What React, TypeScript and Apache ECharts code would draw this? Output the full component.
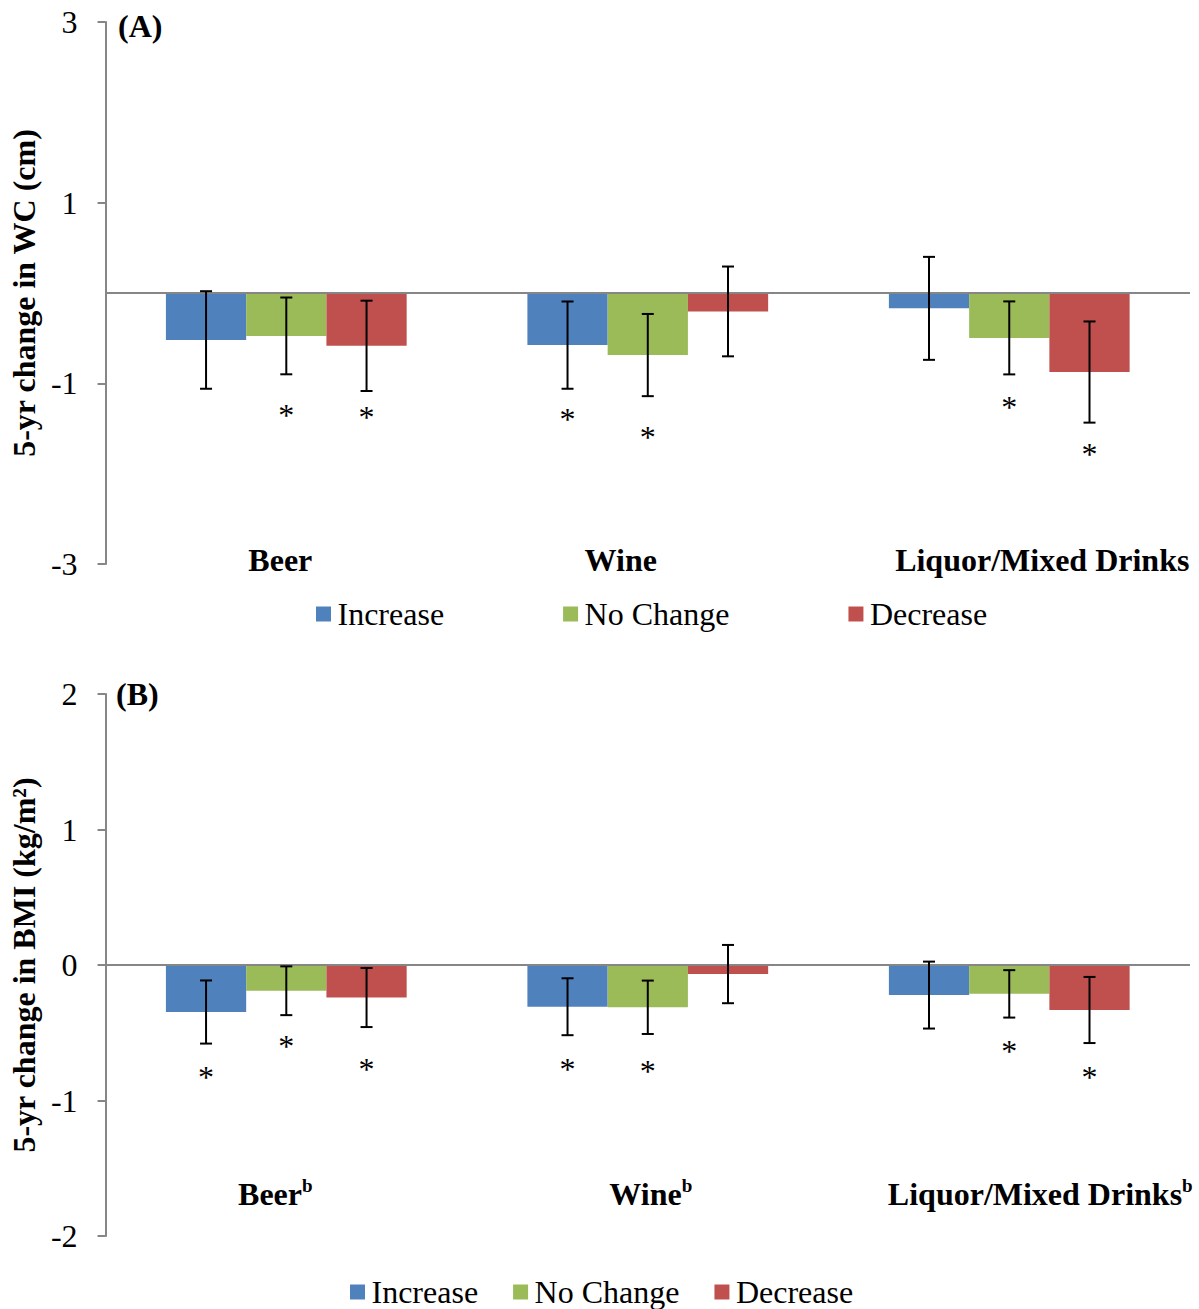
import React, { useEffect, useRef } from "react";
import * as echarts from "echarts";

// ---------- data ----------
const categories = ["Beer", "Wine", "Liquor/Mixed Drinks"];
const seriesNames = ["Increase", "No Change", "Decrease"];
const colors = ["#4F81BD", "#9BBB59", "#C0504D"];

// Panel A: 5-yr change in WC (cm)
const wcIncrease = [-0.52, -0.577, -0.17];
const wcNoChange = [-0.475, -0.687, -0.497];
const wcDecrease = [-0.585, -0.204, -0.875];
const wcErrIncrease = [0.54, 0.483, 0.57];
const wcErrNoChange = [0.425, 0.455, 0.404];
const wcErrDecrease = [0.5, 0.497, 0.56];
// asterisks: [category, bar (0 inc / 1 no change / 2 dec), y]
const wcStars = [
  [0, 1, -1.31],
  [0, 2, -1.33],
  [1, 0, -1.347],
  [1, 1, -1.55],
  [2, 1, -1.218],
  [2, 2, -1.742],
];
const wcTicks = [-3, -1, 1, 3];

// Panel B: 5-yr change in BMI (kg/m2)
const bmiIncrease = [-0.347, -0.308, -0.222];
const bmiNoChange = [-0.19, -0.312, -0.213];
const bmiDecrease = [-0.24, -0.067, -0.332];
const bmiErrIncrease = [0.233, 0.21, 0.247];
const bmiErrNoChange = [0.18, 0.197, 0.175];
const bmiErrDecrease = [0.218, 0.215, 0.244];
const bmiStars = [
  [0, 0, -0.8],
  [0, 1, -0.57],
  [0, 2, -0.735],
  [1, 0, -0.735],
  [1, 1, -0.753],
  [2, 1, -0.605],
  [2, 2, -0.797],
];
const bmiTicks = [-2, -1, 0, 1, 2];

// ---------- style ----------
const FONT = "'Liberation Serif', 'Times New Roman', serif";
const AXIS_GRAY = "#868686";
const GAP_RATIO = 0.334;
const labelShiftA = [-6, -27, 33];
const labelShiftB = [-11, 3, 31];

function padFor(s: number, side: "left" | "right") {
  if (s < 0 && side === "right") return [0, -2 * s, 0, 0];
  if (s > 0 && side === "left") return [0, 0, 0, 2 * s];
  return [0, 0, 0, 0];
}

function buildPanel(
  idx: number,
  means: number[][],
  errs: number[][],
  stars: number[][]
) {
  const series: any[] = [];
  means.forEach((m, k) => {
    series.push({
      type: "bar",
      name: seriesNames[k],
      xAxisIndex: idx,
      yAxisIndex: idx,
      data: m,
      barGap: "0%",
      barCategoryGap: GAP_RATIO * 100 + "%",
      itemStyle: { color: colors[k] },
      markLine:
        k === 0
          ? {
              silent: true,
              symbol: "none",
              label: { show: false },
              lineStyle: { color: AXIS_GRAY, width: 2, type: "solid" },
              data: [{ yAxis: 0 }],
              z: 4,
            }
          : undefined,
    });
  });
  means.forEach((m, k) => {
    series.push({
      type: "custom",
      name: "err" + idx + "_" + k,
      xAxisIndex: idx,
      yAxisIndex: idx,
      z: 5,
      encode: { x: 0, y: [1, 2] },
      data: m.map((v, c) => [c, v - errs[k][c], v + errs[k][c]]),
      renderItem: (params: any, api: any) => {
        const c = api.value(0);
        const lo = api.coord([c, api.value(1)]);
        const hi = api.coord([c, api.value(2)]);
        const band = api.size([1, 0])[0];
        const barW = (band * (1 - GAP_RATIO)) / 3;
        const x = lo[0] + (k - 1) * barW;
        const cap = 6;
        const st = { stroke: "#000", lineWidth: 2 };
        return {
          type: "group",
          children: [
            { type: "line", shape: { x1: x, y1: lo[1], x2: x, y2: hi[1] }, style: st },
            { type: "line", shape: { x1: x - cap, y1: lo[1], x2: x + cap, y2: lo[1] }, style: st },
            { type: "line", shape: { x1: x - cap, y1: hi[1], x2: x + cap, y2: hi[1] }, style: st },
          ],
        };
      },
    });
  });
  series.push({
    type: "custom",
    name: "stars" + idx,
    xAxisIndex: idx,
    yAxisIndex: idx,
    z: 5,
    encode: { x: 0, y: 2 },
    data: stars,
    renderItem: (params: any, api: any) => {
      const c = api.value(0);
      const k = api.value(1);
      const p = api.coord([c, api.value(2)]);
      const band = api.size([1, 0])[0];
      const barW = (band * (1 - GAP_RATIO)) / 3;
      return {
        type: "text",
        x: p[0] + (k - 1) * barW,
        y: p[1] + 4,
        style: {
          text: "*",
          fontSize: 32,
          fontFamily: FONT,
          fill: "#000",
          align: "center",
          verticalAlign: "middle",
        },
      };
    },
  });
  return series;
}

function catAxis(idx: number, shifts: number[], sup: boolean, margin: number) {
  const rich: any = {};
  shifts.forEach((s, i) => {
    rich["m" + i] = {
      fontFamily: FONT,
      fontSize: 32,
      fontWeight: "bold",
      color: "#000",
      lineHeight: 36,
      padding: sup ? padFor(s, "left") : s < 0 ? padFor(s, "right") : padFor(s, "left"),
    };
    rich["s" + i] = {
      fontFamily: FONT,
      fontSize: 19,
      fontWeight: "bold",
      color: "#000",
      lineHeight: 22,
      verticalAlign: "top",
      padding: padFor(s, "right"),
    };
  });
  return {
    type: "category",
    gridIndex: idx,
    data: categories,
    position: "bottom",
    axisLine: { show: false, onZero: false },
    axisTick: { show: false },
    splitLine: { show: false },
    axisLabel: {
      interval: 0,
      margin,
      verticalAlign: "middle",
      formatter: (v: string, i: number) =>
        sup ? `{m${i}|${v}}{s${i}|b}` : `{m${i}|${v}}`,
      rich,
    },
  };
}

function valAxis(idx: number, min: number, max: number, ticks: number[], name: string) {
  return {
    type: "value",
    gridIndex: idx,
    min,
    max,
    interval: 1,
    name,
    nameLocation: "middle",
    nameGap: 60,
    nameTextStyle: { fontFamily: FONT, fontSize: 32, fontWeight: "bold", color: "#000" },
    axisLine: { show: true, lineStyle: { color: AXIS_GRAY, width: 2 } },
    axisTick: { show: true, length: 8, customValues: ticks, lineStyle: { color: AXIS_GRAY, width: 2 } },
    splitLine: { show: false },
    axisLabel: {
      customValues: ticks,
      margin: 28,
      fontFamily: FONT,
      fontSize: 32,
      color: "#000",
    },
  };
}

export default function App() {
  const ref = useRef<HTMLDivElement>(null);
  useEffect(() => {
    document.body.style.margin = "0";
    const chart = echarts.init(ref.current!, null, { renderer: "svg" });
    const option: any = {
      animation: false,
      backgroundColor: "#fff",
      textStyle: { fontFamily: FONT },
      grid: [
        { left: 101, right: 9, top: 22, height: 542 },
        { left: 101, right: 9, top: 694, height: 542 },
      ],
      xAxis: [catAxis(0, labelShiftA, false, -4), catAxis(1, labelShiftB, true, -42)],
      yAxis: [
        valAxis(0, -3, 3, wcTicks, "5-yr change in WC (cm)"),
        valAxis(1, -2, 2, bmiTicks, "5-yr change in BMI (kg/m²)"),
      ],
      legend: [
        {
          left: 316,
          top: 598,
          padding: 0,
          itemWidth: 18,
          itemHeight: 15,
          itemGap: 119,
          icon: "path://M0,0H10V10H0Z",
          textStyle: { fontFamily: FONT, fontSize: 32, color: "#000" },
          data: seriesNames,
        },
        {
          left: 350,
          top: 1276,
          padding: 0,
          itemWidth: 18,
          itemHeight: 15,
          itemGap: 35,
          icon: "path://M0,0H10V10H0Z",
          textStyle: { fontFamily: FONT, fontSize: 32, color: "#000" },
          data: seriesNames,
        },
      ],
      graphic: [
        {
          type: "text",
          x: 118,
          y: 26,
          style: { text: "(A)", fontFamily: FONT, fontSize: 32, fontWeight: "bold", fill: "#000", verticalAlign: "middle" },
        },
        {
          type: "text",
          x: 116,
          y: 694,
          style: { text: "(B)", fontFamily: FONT, fontSize: 32, fontWeight: "bold", fill: "#000", verticalAlign: "middle" },
        },
      ],
      series: [
        ...buildPanel(
          0,
          [wcIncrease, wcNoChange, wcDecrease],
          [wcErrIncrease, wcErrNoChange, wcErrDecrease],
          wcStars
        ),
        ...buildPanel(
          1,
          [bmiIncrease, bmiNoChange, bmiDecrease],
          [bmiErrIncrease, bmiErrNoChange, bmiErrDecrease],
          bmiStars
        ),
      ],
    };
    chart.setOption(option);
    return () => chart.dispose();
  }, []);
  return <div ref={ref} style={{ width: 1199, height: 1309 }} />;
}
